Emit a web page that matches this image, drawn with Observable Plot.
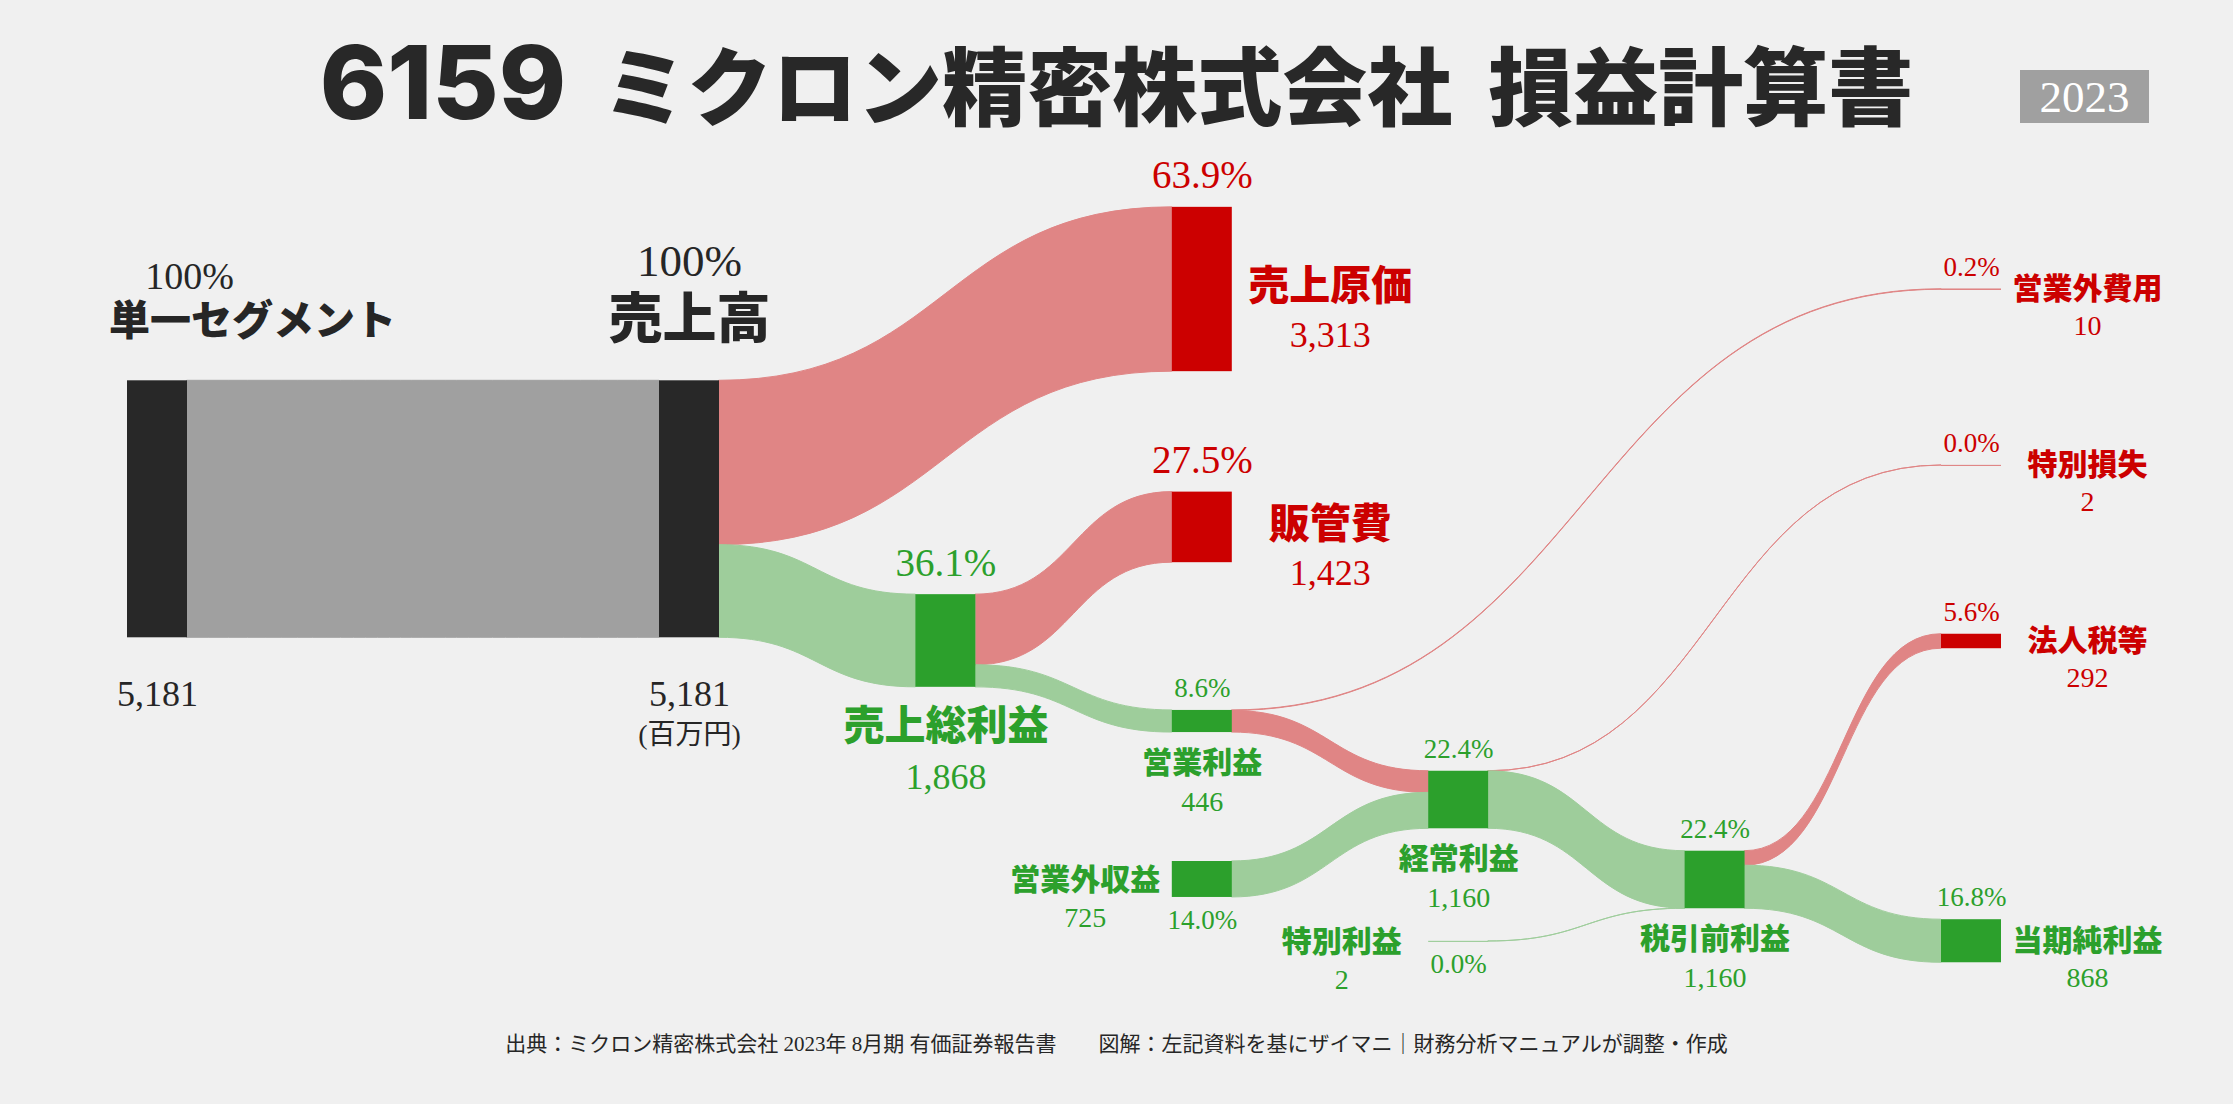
<!DOCTYPE html>
<html lang="ja">
<head>
<meta charset="utf-8">
<script src="https://cdn.jsdelivr.net/npm/d3@7"></script>
<script src="https://cdn.jsdelivr.net/npm/@observablehq/plot@0.6"></script>
<style>
  html, body { margin:0; padding:0; background:#f0f0f0; }
  body { width:2233px; height:1104px; overflow:hidden; position:relative; }
  #header { position:relative; width:2233px; height:140px; }
  #title { position:absolute; left:0; width:2233px; top:32px; text-align:center;
           font-family:"Noto Sans CJK JP", sans-serif; font-weight:900; font-size:85px;
           line-height:100px; color:#282828; white-space:nowrap; }
  #title .num { font-family:Inter, "Noto Sans CJK JP", sans-serif; font-size:102px; font-weight:800; line-height:100px; }
  #title .gap { display:inline-block; width:36px; }
  #year { position:absolute; left:2020px; top:70px; width:129px; height:53px; background:#a0a0a0;
          color:#fff; font-family:"Liberation Serif", serif; font-size:45px; line-height:55px; text-align:center; }
  #chart { width:2233px; height:880px; }
  #chart svg { display:block; }
  #footer { width:2233px; height:84px; box-sizing:border-box; padding-top:12px; text-align:center;
            font-family:"Liberation Serif", "Noto Sans CJK JP", serif; font-size:21px; line-height:24px; color:#262626; white-space:pre; }
</style>
</head>
<body>
<div id="header">
  <div id="title"><span class="num">6159</span><span class="gap"></span>ミクロン精密株式会社<span class="gap"></span>損益計算書</div>
  <div id="year">2023</div>
</div>
<div id="chart"></div>
<div id="footer">出典：ミクロン精密株式会社 2023年 8月期 有価証券報告書　　図解：左記資料を基にザイマニ｜財務分析マニュアルが調整・作成</div>
<script>
// ---------------- data (百万円) ----------------
const nodeNames = ["単一セグメント","売上高","売上原価","売上総利益","販管費","営業利益","営業外収益","営業外費用","経常利益","特別利益","特別損失","税引前利益","法人税等","当期純利益"];
const nodeValues = [5181, 5181, 3313, 1868, 1423, 446, 725, 10, 1160, 2, 2, 1160, 292, 868];
const nodePercents = ["100%","100%","63.9%","36.1%","27.5%","8.6%","14.0%","0.2%","22.4%","0.0%","0.0%","22.4%","5.6%","16.8%"];
const nodeKinds = ["total","total","cost","profit","cost","profit","profit","cost","profit","profit","cost","profit","cost","profit"];

const linkSources = ["単一セグメント","売上高","売上高","売上総利益","売上総利益","営業利益","営業利益","営業外収益","経常利益","経常利益","特別利益","税引前利益","税引前利益"];
const linkTargets = ["売上高","売上原価","売上総利益","販管費","営業利益","営業外費用","経常利益","経常利益","特別損失","税引前利益","税引前利益","法人税等","当期純利益"];
const linkValues  = [5181, 3313, 1868, 1423, 446, 10, 436, 725, 2, 1158, 2, 292, 868];
const linkKinds   = ["segment","cost","profit","cost","profit","cost","cost","profit","cost","profit","profit","cost","profit"];

const unitLabel = "(百万円)";

// ---------------- layout (stage column, vertical centre in value units) ----------------
const nodeStage = {"単一セグメント":0,"売上高":1,"売上総利益":2,"売上原価":3,"販管費":3,"営業利益":3,"営業外収益":3,
  "経常利益":4,"特別利益":4,"税引前利益":5,"営業外費用":6,"特別損失":6,"法人税等":6,"当期純利益":6};
const nodeCenter = {"単一セグメント":7435,"売上高":7435,"売上原価":3004,"販管費":7800,"売上総利益":10090,"営業利益":11713,
  "営業外収益":14898,"経常利益":13296,"特別利益":16148,"税引前利益":14908,"営業外費用":3004,"特別損失":6552,"法人税等":10100,"当期純利益":16143};
const labelStyle = {"単一セグメント":"lead","売上高":"sales","売上原価":"rightBig","販管費":"rightBig","売上総利益":"belowBig",
  "営業利益":"below","経常利益":"below","税引前利益":"below","営業外収益":"left","特別利益":"left",
  "営業外費用":"right","特別損失":"right","法人税等":"right","当期純利益":"right"};

// ---------------- styles ----------------
const nodeColor = {total:"#282828", cost:"#cc0000", profit:"#2ca02c"};
const textColor = {total:"#262626", cost:"#cc0000", profit:"#2ca02c"};
const linkColor = {segment:"#a0a0a0", cost:"#e08585", profit:"#9ecd9b"};
const NODE_W = 60;
const W = 2233, H = 880;
const X = {type:"linear", domain:[0, 1, 6], range:[127, 659, 1941]};
const Y = {type:"linear", domain:[0, 17741], range:[0, H]};
const xs = Plot.scale({x: X}), ys = Plot.scale({y: Y});
const ox = (v, px) => xs.invert(xs.apply(v) + px);
const oy = (v, px) => ys.invert(ys.apply(v) + px);

// ---------------- build nodes ----------------
const nodeByName = new Map();
const nodes = nodeNames.map((name, i) => {
  const s = nodeStage[name], c = nodeCenter[name], v = nodeValues[i];
  const n = {name, value:v, pct:nodePercents[i], kind:nodeKinds[i], stage:s, center:c,
    x1:s, x2:ox(s, NODE_W), xc:ox(s, NODE_W/2), y1:c - v/2, y2:c + v/2};
  n.color = nodeColor[n.kind];
  nodeByName.set(name, n);
  return n;
});

// ---------------- build links ----------------
const outOff = new Map(), inOff = new Map();
const linkPts = [];
linkSources.forEach((src, i) => {
  const s = nodeByName.get(src), t = nodeByName.get(linkTargets[i]), v = linkValues[i];
  const so = outOff.get(src) || 0, to = inOff.get(t.name) || 0;
  outOff.set(src, so + v); inOff.set(t.name, to + v);
  linkPts.push({id:i, kind:linkKinds[i], x:s.x2, y1:s.y1 + so, y2:s.y1 + so + v});
  linkPts.push({id:i, kind:linkKinds[i], x:t.x1, y1:t.y1 + to, y2:t.y1 + to + v});
});

// ---------------- labels ----------------
const fmt = d3.format(",");
const labels = [];
const add = (text, x, y, color, cls) => labels.push({text, x, y, color, cls});
for (const n of nodes) {
  const s = n.stage, col = textColor[n.kind], val = fmt(n.value);
  switch (labelStyle[n.name]) {
    case "lead":
      add(n.pct, ox(s, 62), oy(n.y1, -104), col, "pctLead");
      add(n.name, ox(s, 125), oy(n.y1, -59), col, "nameLead");
      add(val, n.xc, oy(n.y2, 57), col, "valLead");
      break;
    case "sales":
      add(n.pct, n.xc, oy(n.y1, -119), col, "pctSales");
      add(n.name, n.xc, oy(n.y1, -60), col, "nameSales");
      add(val, n.xc, oy(n.y2, 57), col, "valLead");
      add(unitLabel, n.xc, oy(n.y2, 97), col, "unit");
      break;
    case "rightBig":
      add(n.pct, n.xc, oy(n.y1, -32), col, "pctBig");
      add(n.name, ox(s, 158), oy(n.center, -3), col, "nameBig");
      add(val, ox(s, 158), oy(n.center, 46), col, "valBig");
      break;
    case "belowBig":
      add(n.pct, n.xc, oy(n.y1, -31), col, "pctBig");
      add(n.name, n.xc, oy(n.y2, 40), col, "nameBig");
      add(val, n.xc, oy(n.y2, 90), col, "valBig");
      break;
    case "below":
      add(n.pct, n.xc, oy(n.y1, -22), col, "pctSmall");
      add(n.name, n.xc, oy(n.y2, 31), col, "nameSmall");
      add(val, n.xc, oy(n.y2, 69), col, "valSmall");
      break;
    case "left":
      add(n.name, ox(s, -87), oy(n.center, 1), col, "nameSmall");
      add(val, ox(s, -87), oy(n.center, 39), col, "valSmall");
      add(n.pct, n.xc, oy(n.y2, 23), col, "pctSmall");
      break;
    case "right":
      add(n.pct, n.xc, oy(n.y1, -22), col, "pctSmall");
      add(n.name, ox(s, 146), oy(n.center, 0), col, "nameSmall");
      add(val, ox(s, 146), oy(n.center, 37), col, "valSmall");
      break;
  }
}
const SERIF = "Liberation Serif, Noto Sans CJK JP, serif";
const SANS = "Noto Sans CJK JP, sans-serif";
const textStyles = [
  {cls:"pctLead", fontSize:38, fontFamily:SERIF, fontWeight:400},
  {cls:"nameLead", fontSize:41, fontFamily:SANS, fontWeight:900},
  {cls:"valLead", fontSize:36, fontFamily:SERIF, fontWeight:400},
  {cls:"pctSales", fontSize:45, fontFamily:SERIF, fontWeight:400},
  {cls:"nameSales", fontSize:54, fontFamily:SANS, fontWeight:900},
  {cls:"unit", fontSize:28, fontFamily:SERIF, fontWeight:400},
  {cls:"pctBig", fontSize:39, fontFamily:SERIF, fontWeight:400},
  {cls:"nameBig", fontSize:41, fontFamily:SANS, fontWeight:900},
  {cls:"valBig", fontSize:36, fontFamily:SERIF, fontWeight:400},
  {cls:"pctSmall", fontSize:27, fontFamily:SERIF, fontWeight:400},
  {cls:"nameSmall", fontSize:30, fontFamily:SANS, fontWeight:900},
  {cls:"valSmall", fontSize:28, fontFamily:SERIF, fontWeight:400}
];

// ---------------- plot ----------------
const linkMarks = Object.keys(linkColor).map(k =>
  Plot.areaY(linkPts.filter(d => d.kind === k), {
    x:"x", y1:"y1", y2:"y2", z:"id", curve:"bump-x",
    fill:linkColor[k], stroke:linkColor[k], strokeWidth:1
  }));
const tinyNodes = nodes.filter(n => n.value < 20);

const chart = Plot.plot({
  width: W, height: H, margin: 0,
  style: {background:"transparent", overflow:"visible"},
  x: {...X, axis:null},
  y: {...Y, axis:null},
  color: {type:"identity"},
  marks: [
    ...linkMarks,
    Plot.rect(nodes, {x1:"x1", x2:"x2", y1:"y1", y2:"y2", fill:"color"}),
    Plot.ruleY(tinyNodes, {y:"center", x1:"x1", x2:"x2", stroke:d => linkColor[d.kind], strokeWidth:1}),
    ...textStyles.map(st => Plot.text(labels.filter(l => l.cls === st.cls), {
      x:"x", y:"y", text:"text", fill:"color", textAnchor:"middle", lineAnchor:"middle",
      fontSize:st.fontSize, fontFamily:st.fontFamily, fontWeight:st.fontWeight
    }))
  ]
});
document.getElementById("chart").appendChild(chart);
</script>
</body>
</html>
